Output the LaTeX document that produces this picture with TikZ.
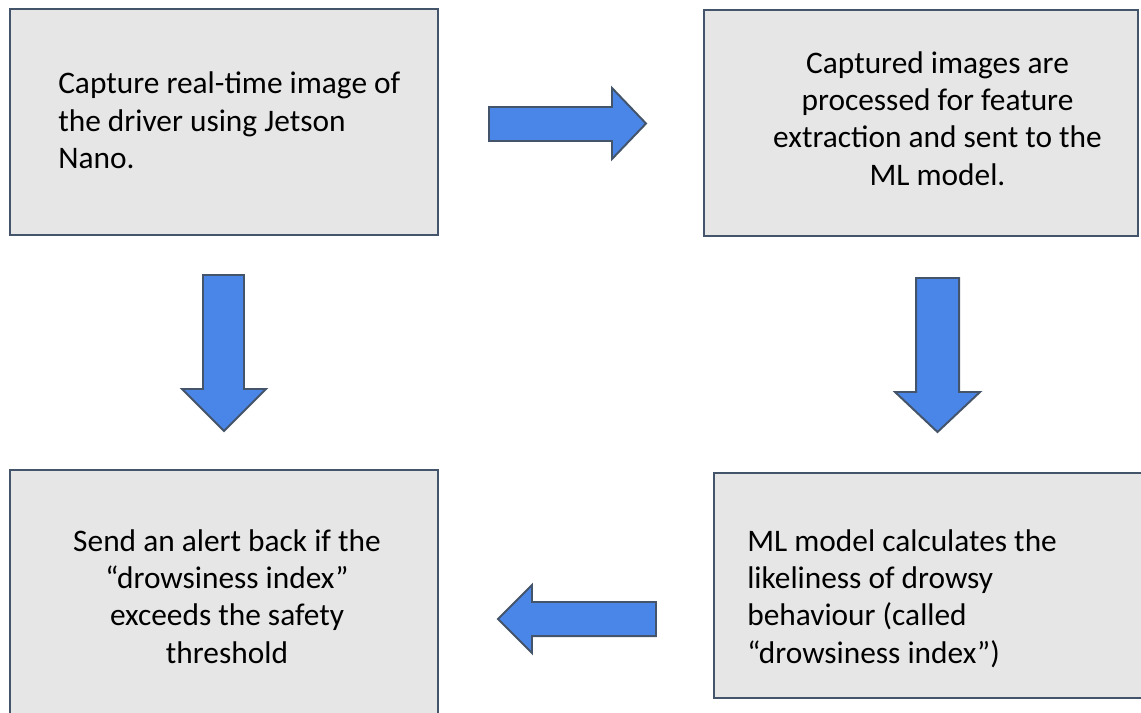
\documentclass[tikz,border=0pt]{standalone}
\usepackage{fontspec}
\setmainfont{Carlito}
\definecolor{boxfill}{RGB}{231,230,230}
\definecolor{boxline}{RGB}{68,84,106}
\definecolor{arrowfill}{RGB}{74,134,232}

\begin{document}
\begin{tikzpicture}[x=0.025cm, y=-0.025cm,
    box/.style={draw=boxline, fill=boxfill, line width=1.5pt, inner sep=0pt},
    txt/.style={inner sep=0pt, font=\fontsize{22.3}{26.5}\selectfont},
    blockarrow/.style={draw=boxline, fill=arrowfill, line width=1.4pt, line join=miter}]

    \useasboundingbox (0, 0) rectangle (1141, 712);
    \clip (0, 0) rectangle (1141, 712);

    % the four steps
    \node [box, minimum width=10.7cm, minimum height=5.65cm] (capture) at (224, 122) {};
    \node [box, minimum width=10.85cm, minimum height=5.65cm] (process) at (921, 123) {};
    \node [box, minimum width=11.15cm, minimum height=5.625cm] (model) at (937, 585.5) {};
    \node [box, minimum width=10.7cm, minimum height=6.75cm] (alert) at (224, 605) {};

    \node [txt, align=left, anchor=base west] (capturetxt) at (58, 168.5)
        {Capture real-time image of\\the driver using Jetson\\Nano.};
    \node [txt, align=center, anchor=base] (processtxt) at (937.5, 185)
        {Captured images are\\processed for feature\\extraction and sent to the\\ML model.};
    \node [txt, align=left, anchor=base west] (modeltxt) at (747, 663)
        {ML model calculates the\\likeliness of drowsy\\behaviour (called\\“drowsiness index”)};
    \node [txt, align=center, anchor=base] (alerttxt) at (227, 663)
        {Send an alert back if the\\“drowsiness index”\\exceeds the safety\\threshold};

    % block arrows between the steps
    \draw [blockarrow] (489, 107) -- (612, 107) -- (612, 88) -- (646, 123.5)
        -- (612, 159) -- (612, 141) -- (489, 141) -- cycle;
    \draw [blockarrow] (203, 275) -- (244, 275) -- (244, 389) -- (266, 389)
        -- (224, 431) -- (182, 389) -- (203, 389) -- cycle;
    \draw [blockarrow] (916, 278) -- (959, 278) -- (959, 392) -- (980, 392)
        -- (937.5, 432) -- (895, 392) -- (916, 392) -- cycle;
    \draw [blockarrow] (656, 602) -- (532, 602) -- (532, 585) -- (498, 619)
        -- (532, 653) -- (532, 636) -- (656, 636) -- cycle;
\end{tikzpicture}
\end{document}
